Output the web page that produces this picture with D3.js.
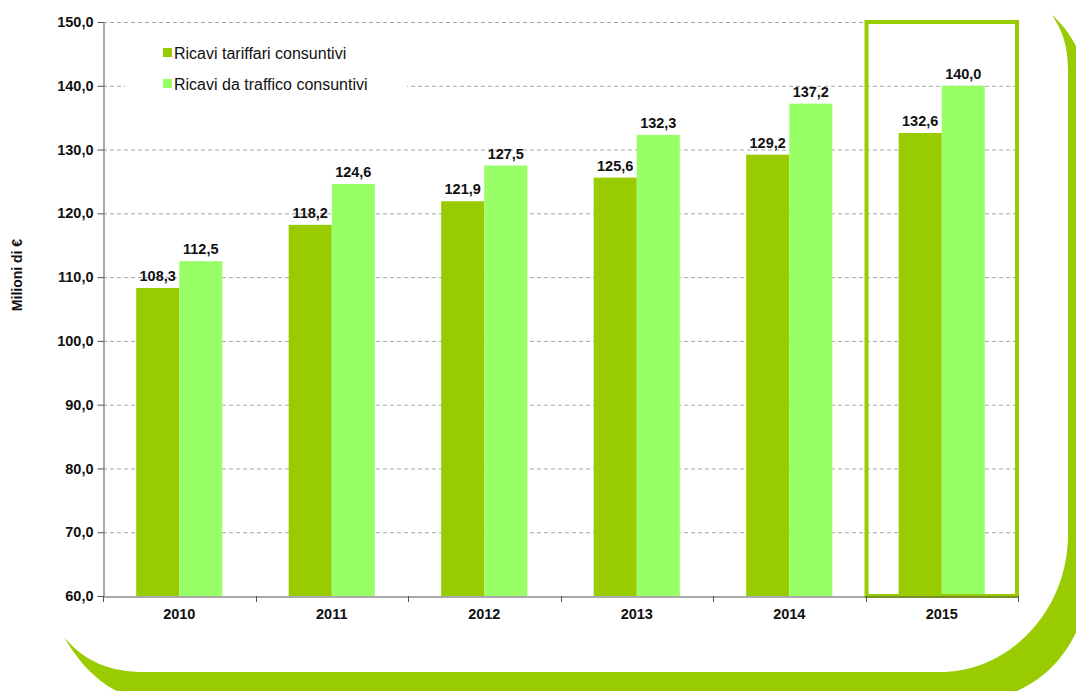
<!DOCTYPE html>
<html>
<head>
<meta charset="utf-8">
<script src="https://cdn.jsdelivr.net/npm/d3@7"></script>
<style>
  html, body { margin: 0; padding: 0; background: #fff; }
  svg { display: block; }
  text { font-family: "Liberation Sans", Arial, sans-serif; }
</style>
</head>
<body>
<svg id="chart" width="1076" height="691"></svg>
<script>
// Ricavi consuntivi (milioni di euro)
const years = ["2010", "2011", "2012", "2013", "2014", "2015"];
const seriesNames = ["Ricavi tariffari consuntivi", "Ricavi da traffico consuntivi"];
const ricaviTariffari = [108.3, 118.2, 121.9, 125.6, 129.2, 132.6];
const ricaviTraffico = [112.5, 124.6, 127.5, 132.3, 137.2, 140.0];
const yTicks = [60, 70, 80, 90, 100, 110, 120, 130, 140, 150];
const highlightYear = "2015";

const colors = ["#99cc00", "#99ff66"];
const seriesValues = [ricaviTariffari, ricaviTraffico];

const svg = d3.select("#chart");
const margin = { left: 103, right: 58, top: 22, bottom: 95 };
const W = 1076, H = 691;

const x0 = d3.scaleBand().domain(years).range([margin.left, W - margin.right]).paddingInner(0).paddingOuter(0);
const x1 = d3.scaleBand().domain(d3.range(seriesNames.length)).range([0, x0.bandwidth()]).paddingInner(0).paddingOuter(0.77);
const y = d3.scaleLinear().domain([60, 150]).range([H - margin.bottom, margin.top]);

const fmt = v => d3.format(".1f")(v).replace(".", ",");

// decorative frame swoosh
const frame = d3.path();
// outer contour
frame.moveTo(64, 637);
frame.bezierCurveTo(95, 690, 130, 700, 160, 702);
frame.lineTo(960, 702);
frame.bezierCurveTo(1060, 702, 1092, 620, 1092, 560);
frame.lineTo(1092, 120);
frame.bezierCurveTo(1092, 70, 1075, 35, 1052, 15);
// inner contour
frame.bezierCurveTo(1062, 30, 1068, 45, 1068, 70);
frame.lineTo(1068, 535);
frame.bezierCurveTo(1068, 610, 1010, 672, 940, 672);
frame.lineTo(145, 672);
frame.bezierCurveTo(110, 672, 85, 662, 64, 637);
frame.closePath();
svg.append("path").attr("d", frame.toString()).attr("fill", "#99cc00");

// gridlines
svg.append("g").selectAll("line").data(yTicks.filter(t => t > 60)).join("line")
  .attr("x1", margin.left).attr("x2", W - margin.right)
  .attr("y1", d => y(d) + 0.5).attr("y2", d => y(d) + 0.5)
  .attr("stroke", "#a6a6a6").attr("stroke-width", 1).attr("stroke-dasharray", "4,3");

// legend backing
svg.append("rect").attr("x", 125).attr("y", 36).attr("width", 282).attr("height", 64).attr("fill", "#fff");

// bars
const groups = svg.append("g").selectAll("g").data(years).join("g")
  .attr("transform", d => `translate(${x0(d)},0)`);

groups.selectAll("rect").data((d, i) => seriesValues.map((s, k) => ({ k, v: s[i] }))).join("rect")
  .attr("x", d => x1(d.k)).attr("width", x1.bandwidth())
  .attr("y", d => y(d.v)).attr("height", d => y(60) - y(d.v))
  .attr("fill", d => colors[d.k]);

groups.selectAll("text.val").data((d, i) => seriesValues.map((s, k) => ({ k, v: s[i] }))).join("text")
  .attr("class", "val")
  .attr("x", d => x1(d.k) + x1.bandwidth() / 2)
  .attr("y", d => y(d.v) - 7)
  .attr("text-anchor", "middle")
  .attr("font-size", 14.5).attr("font-weight", "bold").attr("fill", "#111")
  .text(d => fmt(d.v));

// highlighted year frame
svg.append("rect")
  .attr("x", x0(highlightYear) + 1).attr("y", y(150))
  .attr("width", x0.bandwidth() - 2).attr("height", y(60) - y(150))
  .attr("fill", "none").attr("stroke", "#99cc00").attr("stroke-width", 4);

// y axis
const yAxis = d3.axisLeft(y).tickValues(yTicks).tickFormat(fmt).tickSize(6).tickSizeOuter(0);
const gy = svg.append("g").attr("transform", `translate(${margin.left + 0.5},0)`).call(yAxis);
gy.select(".domain").attr("stroke", "#555");
gy.selectAll(".tick line").attr("stroke", "#555");
gy.selectAll(".tick text").attr("font-size", 14.5).attr("font-weight", "bold").attr("fill", "#111")
  .attr("font-family", "Liberation Sans, Arial, sans-serif").attr("x", -10);

// x axis
const xAxis = d3.axisBottom(x0).tickSize(0).tickSizeOuter(0);
const gx = svg.append("g").attr("transform", `translate(0,${y(60) + 0.5})`).call(xAxis);
gx.select(".domain").attr("stroke", "#555");
gx.selectAll(".tick text").attr("font-size", 14.5).attr("font-weight", "bold").attr("fill", "#111")
  .attr("font-family", "Liberation Sans, Arial, sans-serif").attr("dy", "0").attr("y", 22);
svg.append("g").selectAll("line").data(years.concat(["end"])).join("line")
  .attr("x1", (d, i) => Math.round(margin.left + i * x0.step()) + 0.5)
  .attr("x2", (d, i) => Math.round(margin.left + i * x0.step()) + 0.5)
  .attr("y1", y(60)).attr("y2", y(60) + 6)
  .attr("stroke", "#555");

// y axis title
svg.append("text")
  .attr("transform", `translate(22,275) rotate(-90)`)
  .attr("text-anchor", "middle")
  .attr("font-size", 14).attr("font-weight", "bold").attr("fill", "#111")
  .text("Milioni di €");

// legend
const legend = svg.append("g").selectAll("g").data(seriesNames).join("g")
  .attr("transform", (d, i) => `translate(163,${48 + i * 31})`);
legend.append("rect").attr("width", 9).attr("height", 9).attr("fill", (d, i) => colors[i]);
legend.append("text").attr("x", 11).attr("y", 10.5)
  .attr("font-size", 16).attr("fill", "#111")
  .text(d => d);
</script>
</body>
</html>
